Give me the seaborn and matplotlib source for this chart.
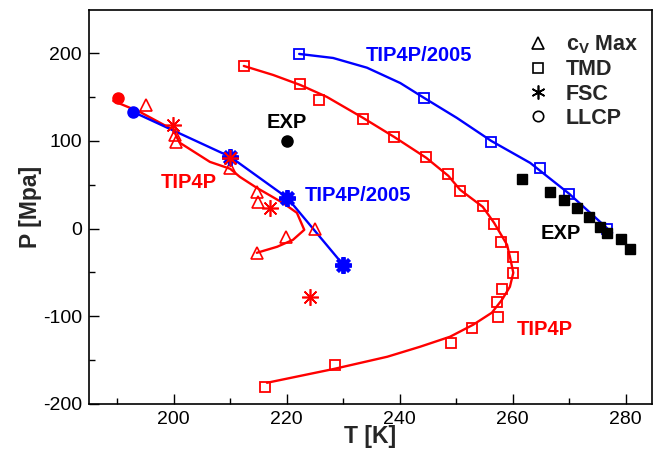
import matplotlib
matplotlib.use("Agg")
import matplotlib.pyplot as plt
from matplotlib.lines import Line2D
from matplotlib.ticker import MultipleLocator
import seaborn as sns

# ---------------- data ----------------
# TIP4P/2005 TMD (squares) and its curve
tmd05_T = [222.2, 244.3, 256.2, 264.8, 270.0, 276.7]
tmd05_P = [199.0, 149.0, 99.0, 69.0, 39.6, -0.2]
tmd05_line_T = [222.2, 228.2, 234.2, 240.1, 244.3, 250.1, 256.2, 263.1, 270.0, 277.6]
tmd05_line_P = [199.2, 194.6, 183.5, 166.0, 149.1, 126.3, 100.0, 74.9, 39.7, -4.8]

# TIP4P TMD (squares) and its curve
tmd4_T = [212.4, 222.4, 225.7, 233.5, 239.0, 244.7, 248.6, 250.7, 254.7, 256.7,
          257.9, 260.1, 260.1, 258.1, 257.2, 257.4, 252.8, 249.1, 228.5, 216.2]
tmd4_P = [185.5, 165.0, 146.8, 125.1, 104.6, 81.8, 62.4, 43.1, 26.0, 5.5,
          -15.0, -32.1, -50.3, -68.6, -83.4, -100.5, -113.0, -130.1, -155.2, -180.3]
tmd4_line_T = [212.4, 217.6, 222.4, 227.1, 233.5, 239.0, 244.7, 248.6, 250.7, 254.7,
               256.7, 259.0, 259.5, 260.1, 259.5, 258.1, 256.3, 253.0, 248.9, 243.6,
               237.8, 228.5, 216.5]
tmd4_line_P = [185.5, 175.2, 163.8, 150.2, 126.3, 104.6, 80.7, 60.2, 44.2, 24.8,
               6.6, -18.5, -32.1, -50.3, -66.3, -81.1, -95.9, -109.6, -123.3, -134.7,
               -146.1, -159.8, -175.8]

# Experimental TMD (filled squares) and LLCP estimate (filled circle)
exp_tmd_T = [261.6, 266.6, 269.1, 271.4, 273.5, 275.5, 276.7, 279.2, 280.8]
exp_tmd_P = [56.8, 41.9, 32.8, 23.7, 13.4, 2.1, -4.8, -11.6, -23.0]
exp_llcp_T = [220.0]
exp_llcp_P = [100.0]

# TIP4P cV max (triangles), FSC (asterisks), LLCP (circle) and curve
cv4_T = [195.1, 200.2, 200.4, 210.0, 214.7, 214.9, 225.0, 219.9, 214.7]
cv4_P = [141.1, 106.9, 98.9, 69.3, 41.9, 30.5, -0.2, -9.3, -27.6]
fsc4_T = [199.9, 210.0, 217.0, 224.1]
fsc4_P = [118.2, 80.7, 23.7, -77.7]
llcp4_T = [190.1]
llcp4_P = [149.0]
line4_T = [189.3, 194.0, 199.9, 201.1, 206.4, 210.0, 211.7, 214.7, 219.3, 221.8,
           223.1, 221.1, 218.3, 214.7]
line4_P = [145.6, 133.1, 112.6, 97.8, 76.1, 68.2, 59.0, 46.5, 29.4, 18.0,
           -1.4, -12.8, -20.7, -27.6]

# TIP4P/2005 FSC (asterisks), LLCP (circle) and line
fsc05_T = [210.0, 220.1, 230.0]
fsc05_P = [81.9, 35.1, -41.3]
llcp05_T = [192.8]
llcp05_P = [133.1]
line05_T = [192.8, 210.0, 220.1, 230.0]
line05_P = [133.1, 81.9, 35.1, -41.3]

legend_labels = [r"$\mathbf{c_V}$ Max", "TMD", "FSC", "LLCP"]
x_ticks = [200, 220, 240, 260, 280]
y_ticks = [-200, -100, 0, 100, 200]

RED = "#ff0000"
BLUE = "#0000ff"
BLACK = "#000000"

# ---------------- style ----------------
sns.set_theme(style="white")
plt.rcParams["font.family"] = ["Liberation Sans", "DejaVu Sans"]
plt.rcParams["mathtext.fontset"] = "custom"
plt.rcParams["mathtext.rm"] = "Liberation Sans"
plt.rcParams["mathtext.bf"] = "Liberation Sans:bold"
plt.rcParams["axes.unicode_minus"] = False

fig = plt.figure(figsize=(6.6, 4.51), dpi=100)
ax = fig.add_axes([89 / 660, 47 / 451, 563 / 660, 394 / 451])


def draw_line(x, y, color, lw=1.7):
    sns.lineplot(x=x, y=y, sort=False, estimator=None, color=color,
                 lw=lw, ax=ax, zorder=2)


def draw_marks(x, y, marker, color, ms, mew, fill=False, z=3):
    sns.lineplot(x=x, y=y, sort=False, estimator=None, ax=ax, color=color,
                 marker=marker, linestyle="none", markersize=ms,
                 markeredgewidth=mew, markeredgecolor=color,
                 markerfacecolor=(color if fill else "none"), zorder=z)


ASTER = (8, 2, 0)

# lines
draw_line(tmd05_line_T, tmd05_line_P, BLUE)
draw_line(tmd4_line_T, tmd4_line_P, RED)
draw_line(line4_T, line4_P, RED)
draw_line(line05_T, line05_P, BLUE)

# markers
draw_marks(tmd05_T, tmd05_P, "s", BLUE, 7.5, 1.3)
draw_marks(tmd4_T, tmd4_P, "s", RED, 7.5, 1.3)
draw_marks(exp_tmd_T, exp_tmd_P, "s", BLACK, 7.5, 1.0, fill=True)
draw_marks(exp_llcp_T, exp_llcp_P, "o", BLACK, 8, 1.0, fill=True)
draw_marks(cv4_T, cv4_P, "^", RED, 8.5, 1.2)
draw_marks(fsc4_T, fsc4_P, ASTER, RED, 12, 1.2, z=4)
draw_marks(fsc05_T, fsc05_P, ASTER, BLUE, 12, 2.8, z=3)
draw_marks(llcp4_T, llcp4_P, "o", RED, 8, 1.0, fill=True)
draw_marks(llcp05_T, llcp05_P, "o", BLUE, 8, 1.0, fill=True)

# annotations
tkw = dict(fontsize=14.5, fontweight="bold", ha="center", va="center")
ax.text(243.4, 197.5, "TIP4P/2005", color=BLUE, **tkw)
ax.text(232.6, 38.0, "TIP4P/2005", color=BLUE, **tkw)
ax.text(202.6, 52.2, "TIP4P", color=RED, **tkw)
ax.text(265.7, -115.4, "TIP4P", color=RED, **tkw)
ax.text(220.0, 121.0, "EXP", color=BLACK, **tkw)
ax.text(268.5, -5.5, "EXP", color=BLACK, **tkw)

# legend
handles = [
    Line2D([], [], ls="none", marker="^", ms=9, mew=1.2, mec=BLACK, mfc="none"),
    Line2D([], [], ls="none", marker="s", ms=7, mew=1.2, mec=BLACK, mfc="none"),
    Line2D([], [], ls="none", marker=(6, 2, 0), ms=10, mew=1.2, mec=BLACK, mfc="none"),
    Line2D([], [], ls="none", marker="o", ms=7.5, mew=1.2, mec=BLACK, mfc="none"),
]
ax.legend(handles, legend_labels, loc="upper left", bbox_to_anchor=(0.778, 0.940),
          frameon=False, handlelength=1.0, handletextpad=0.8, labelspacing=0.15,
          borderaxespad=0, borderpad=0,
          prop=dict(family="Liberation Sans", weight="bold", size=15.5))

# axes
ax.set_xlim(185.0, 284.65)
ax.set_ylim(-200, 249.3)
ax.set_xticks(x_ticks)
ax.set_yticks(y_ticks)
ax.xaxis.set_minor_locator(MultipleLocator(10))
ax.yaxis.set_minor_locator(MultipleLocator(50))
ax.tick_params(which="both", direction="in", top=False, right=False,
               bottom=True, left=True, width=1.0, colors=BLACK, labelsize=14)
ax.tick_params(which="major", length=7.5, pad=5)
ax.tick_params(which="minor", length=4)
for s in ax.spines.values():
    s.set_color(BLACK)
    s.set_linewidth(1.2)
ax.set_xlabel("T [K]", fontsize=16.5, fontweight="bold", labelpad=-2)
ax.set_ylabel("P [Mpa]", fontsize=16.5, fontweight="bold", labelpad=0.5)

fig.savefig("out.png", dpi=100)
